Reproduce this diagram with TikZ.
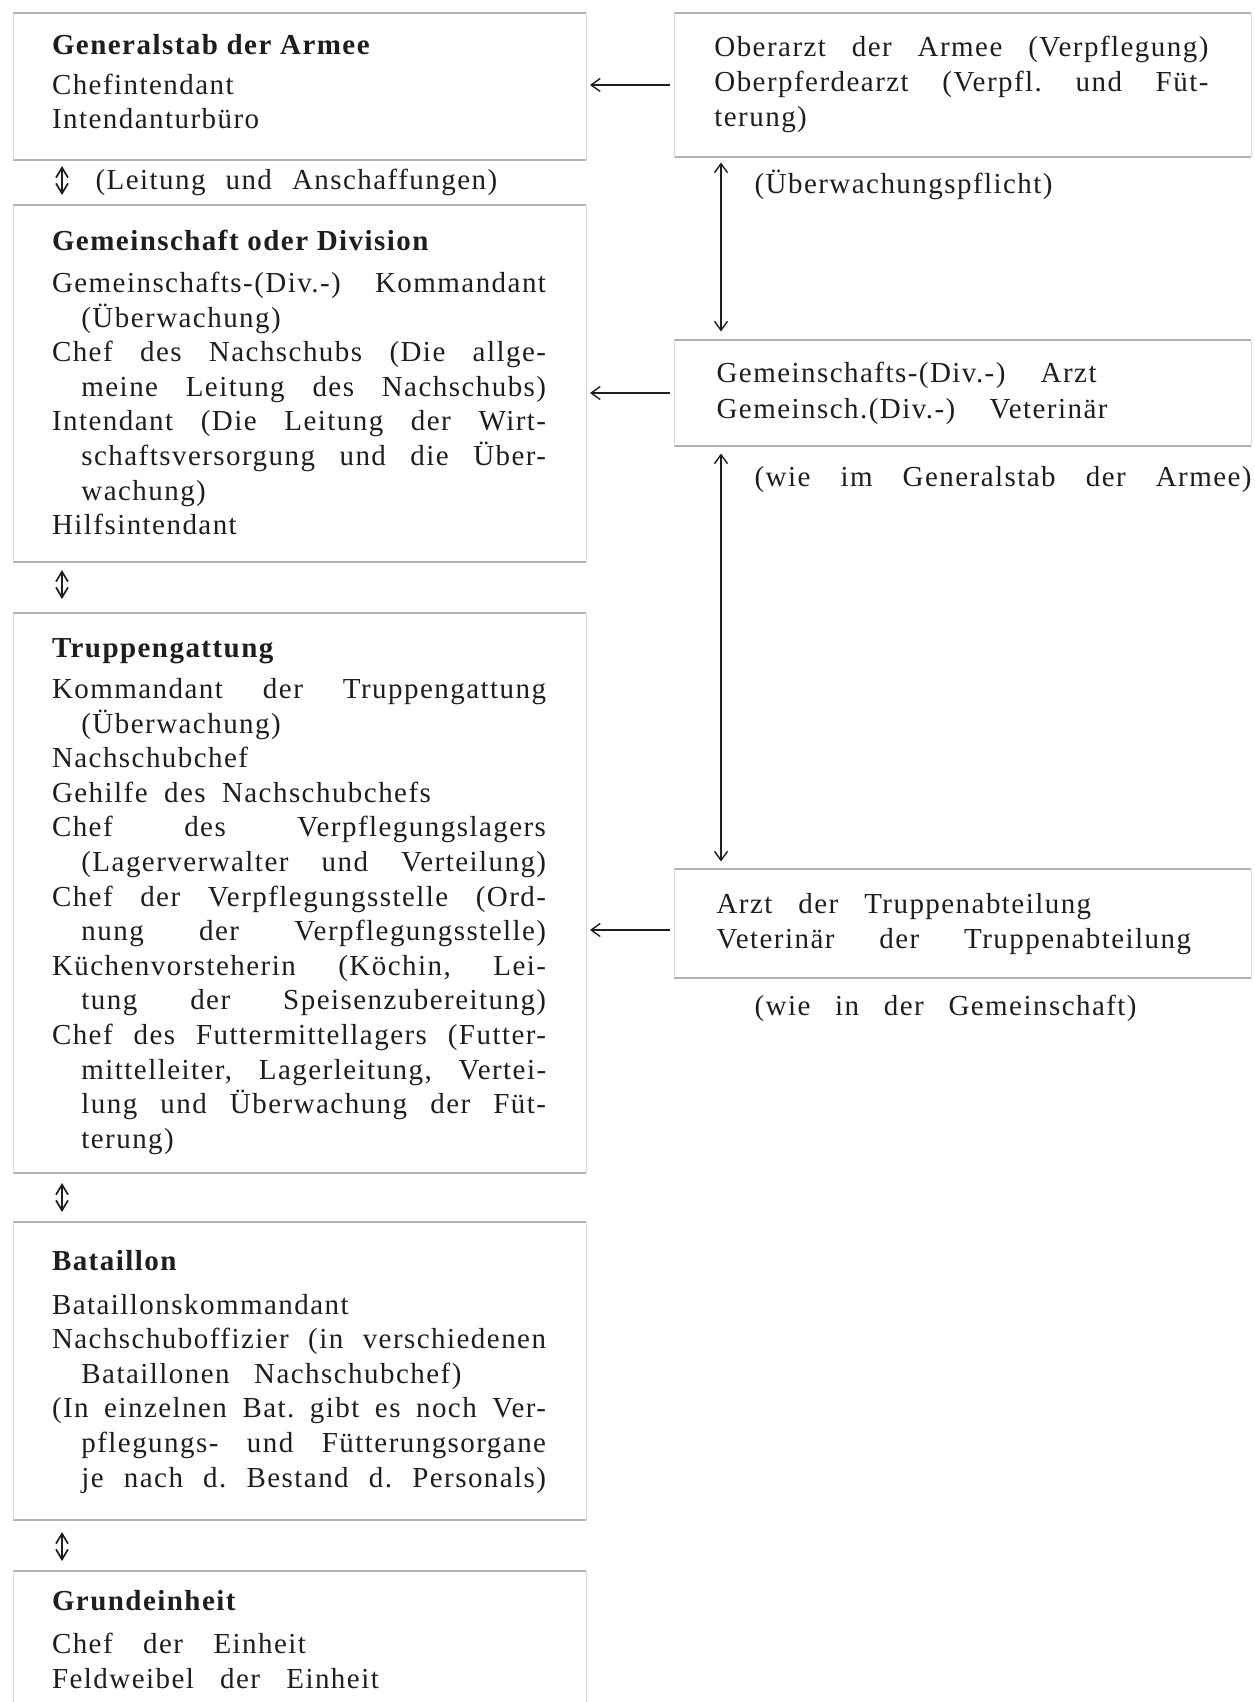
\documentclass[tikz,border=0pt]{standalone}
\usepackage{fontspec}
\setmainfont{Liberation Serif}[LetterSpace=5]
\usetikzlibrary{arrows.meta}
\definecolor{ink}{RGB}{30,30,30}
\newcommand\txjust[5]{\node[txt] (#1) at (#2,#3) {\makebox[#4pt][s]{#5}};}
\newcommand\txnat[4]{\node[txt] (#1) at (#2,#3) {#4};}
\newcommand\frameall[1]{%
  \draw[hl] (#1.north west) -- (#1.north east);
  \draw[hl] (#1.south west) -- (#1.south east);
  \draw[vl] (#1.north west) -- (#1.south west);
  \draw[vl] (#1.north east) -- (#1.south east);}
\begin{document}
\frenchspacing
\begin{tikzpicture}[x=1pt,y=-1pt,
  every node/.style={font=\fontsize{29}{34.6}\selectfont\frenchspacing, text=ink},
  txt/.style={anchor=base west, inner sep=0pt, outer sep=0pt},
  frm/.style={rectangle, inner sep=0pt, outer sep=0pt, draw=none},
  hl/.style={draw=gray!60, line width=1.4pt},
  vl/.style={draw=gray!30, line width=0.8pt},
  arr/.style={draw=ink, line width=1.4pt, -{Straight Barb[length=9pt,width=13pt]}},
  darr/.style={draw=ink, line width=1.4pt, {Straight Barb[length=9pt,width=13pt]}-{Straight Barb[length=9pt,width=13pt]}},
  sdarr/.style={draw=ink, line width=1.7pt, {Straight Barb[length=10pt,width=12pt]}-{Straight Barb[length=10pt,width=12pt]}}]
\useasboundingbox (0,0) rectangle (1254,1702);

% ---------- left boxes ----------
\node[frm, minimum width=573pt, minimum height=147pt] (L1) at (299.5,86.5) {};
\node[frm, minimum width=573pt, minimum height=357pt] (L2) at (299.5,383.5) {};
\node[frm, minimum width=573pt, minimum height=560pt] (L3) at (299.5,893) {};
\node[frm, minimum width=573pt, minimum height=298pt] (L4) at (299.5,1371) {};
\node[frm, minimum width=573pt, minimum height=149pt] (L5) at (299.5,1645.5) {};
\frameall{L1}
\frameall{L2}
\frameall{L3}
\frameall{L4}
\draw[hl] (L5.north west) -- (L5.north east);
\draw[vl] (L5.north west) -- (L5.south west);
\draw[vl] (L5.north east) -- (L5.south east);

% ---------- right boxes ----------
\node[frm, minimum width=577pt, minimum height=144pt] (R1) at (962.5,85) {};
\node[frm, minimum width=577pt, minimum height=106pt] (R2) at (962.5,393) {};
\node[frm, minimum width=577pt, minimum height=109pt] (R3) at (962.5,923.5) {};
\frameall{R1}
\frameall{R2}
\frameall{R3}

% ---------- box 1 ----------
\txnat{t11}{52}{54.6}{\textbf{Generalstab der Armee}}
\txnat{t12}{52}{94.5}{Chefintendant}
\txnat{t13}{52}{128}{Intendanturbüro}
\txjust{t14}{95.5}{189}{401.7}{(Leitung und Anschaffungen)}

% ---------- box 2 ----------
\txnat{t20}{52}{250}{\textbf{Gemeinschaft oder Division}}
\txjust{t21}{52}{292.4}{494}{Gemeinschafts-(Div.-) Kommandant}
\txnat{t22}{81.4}{327}{(Überwachung)}
\txjust{t23}{52}{361.6}{494}{Chef des Nachschubs (Die allge-}
\txjust{t24}{81.4}{396.2}{464.7}{meine Leitung des Nachschubs)}
\txjust{t25}{52}{430.8}{494}{Intendant (Die Leitung der Wirt-}
\txjust{t26}{81.4}{465.4}{464.7}{schaftsversorgung und die Über-}
\txnat{t27}{81.4}{500}{wachung)}
\txnat{t28}{52}{534.6}{Hilfsintendant}

% ---------- box 3 ----------
\txnat{t30}{52}{657}{\textbf{Truppengattung}}
\txjust{t31}{52}{698.4}{494}{Kommandant der Truppengattung}
\txnat{t32}{81.4}{733}{(Überwachung)}
\txnat{t33}{52}{767.6}{Nachschubchef}
\txjust{t34}{52}{802.2}{378.9}{Gehilfe des Nachschubchefs}
\txjust{t35}{52}{836.8}{494}{Chef des Verpflegungslagers}
\txjust{t36}{81.4}{871.4}{464.7}{(Lagerverwalter und Verteilung)}
\txjust{t37}{52}{906}{494}{Chef der Verpflegungsstelle (Ord-}
\txjust{t38}{81.4}{940.6}{464.7}{nung der Verpflegungsstelle)}
\txjust{t39}{52}{975.2}{494}{Küchenvorsteherin (Köchin, Lei-}
\txjust{t3a}{81.4}{1009.8}{464.7}{tung der Speisenzubereitung)}
\txjust{t3b}{52}{1044.4}{494}{Chef des Futtermittellagers (Futter-}
\txjust{t3c}{81.4}{1079}{464.7}{mittelleiter, Lagerleitung, Vertei-}
\txjust{t3d}{81.4}{1113.6}{464.7}{lung und Überwachung der Füt-}
\txnat{t3e}{81.4}{1148.2}{terung)}

% ---------- box 4 ----------
\txnat{t40}{52}{1270.6}{\textbf{Bataillon}}
\txnat{t41}{52}{1314}{Bataillonskommandant}
\txjust{t42}{52}{1348.6}{494}{Nachschuboffizier (in verschiedenen}
\txjust{t43}{81.4}{1383.2}{380}{Bataillonen Nachschubchef)}
\txjust{t44}{52}{1417.8}{494}{(In einzelnen Bat. gibt es noch Ver-}
\txjust{t45}{81.4}{1452.4}{464.7}{pflegungs- und Fütterungsorgane}
\txjust{t46}{81.4}{1487}{464.7}{je nach d. Bestand d. Personals)}

% ---------- box 5 ----------
\txnat{t50}{52}{1610.4}{\textbf{Grundeinheit}}
\txjust{t51}{52}{1653.8}{254}{Chef der Einheit}
\txjust{t52}{52}{1688.4}{326.8}{Feldweibel der Einheit}

% ---------- right texts ----------
\txjust{r11}{714.4}{56.8}{494}{Oberarzt der Armee (Verpflegung)}
\txjust{r12}{714.4}{91.5}{494}{Oberpferdearzt (Verpfl. und Füt-}
\txnat{r13}{714.4}{126.5}{terung)}
\txnat{r14}{754.6}{193.6}{(Überwachungspflicht)}
\txjust{r21}{716.6}{382.5}{380}{Gemeinschafts-(Div.-) Arzt}
\txjust{r22}{716.6}{418.3}{390.9}{Gemeinsch.(Div.-) Veterinär}
\txjust{r23}{754.6}{486.7}{497}{(wie im Generalstab der Armee)}
\txjust{r31}{716.6}{913.4}{374.6}{Arzt der Truppenabteilung}
\txjust{r32}{716.6}{948.1}{474.5}{Veterinär der Truppenabteilung}
\txjust{r33}{754.6}{1015.4}{382}{(wie in der Gemeinschaft)}

% ---------- horizontal arrows ----------
\coordinate (a1) at ([xshift=-4pt]R1.west);
\coordinate (a2) at ([xshift=-4pt]R2.west);
\coordinate (a3) at ([xshift=-4pt,yshift=-6.5pt]R3.west);
\draw[arr, shorten >=4pt] (a1) -- (L1.east |- a1);
\draw[arr, shorten >=4pt] (a2) -- (L2.east |- a2);
\draw[arr, shorten >=4pt] (a3) -- (L3.east |- a3);

% ---------- vertical arrows ----------
\coordinate (v1) at ([xshift=47pt]R1.south west);
\coordinate (v2) at ([xshift=47pt]R2.south west);
\draw[darr, shorten <=5.5pt, shorten >=8.5pt] (v1) -- (R2.north west -| v1);
\draw[darr, shorten <=7.5pt, shorten >=7.5pt] (v2) -- (R3.north west -| v2);

% ---------- small markers between left boxes ----------
\coordinate (m1a) at (62,166);
\coordinate (m1b) at (62,195);
\coordinate (m2a) at (62,570);
\coordinate (m2b) at (62,599);
\coordinate (m3a) at (62,1183);
\coordinate (m3b) at (62,1212);
\coordinate (m4a) at (62,1532);
\coordinate (m4b) at (62,1561);
\draw[sdarr] (m1a) -- (m1b);
\draw[sdarr] (m2a) -- (m2b);
\draw[sdarr] (m3a) -- (m3b);
\draw[sdarr] (m4a) -- (m4b);
\end{tikzpicture}
\end{document}
